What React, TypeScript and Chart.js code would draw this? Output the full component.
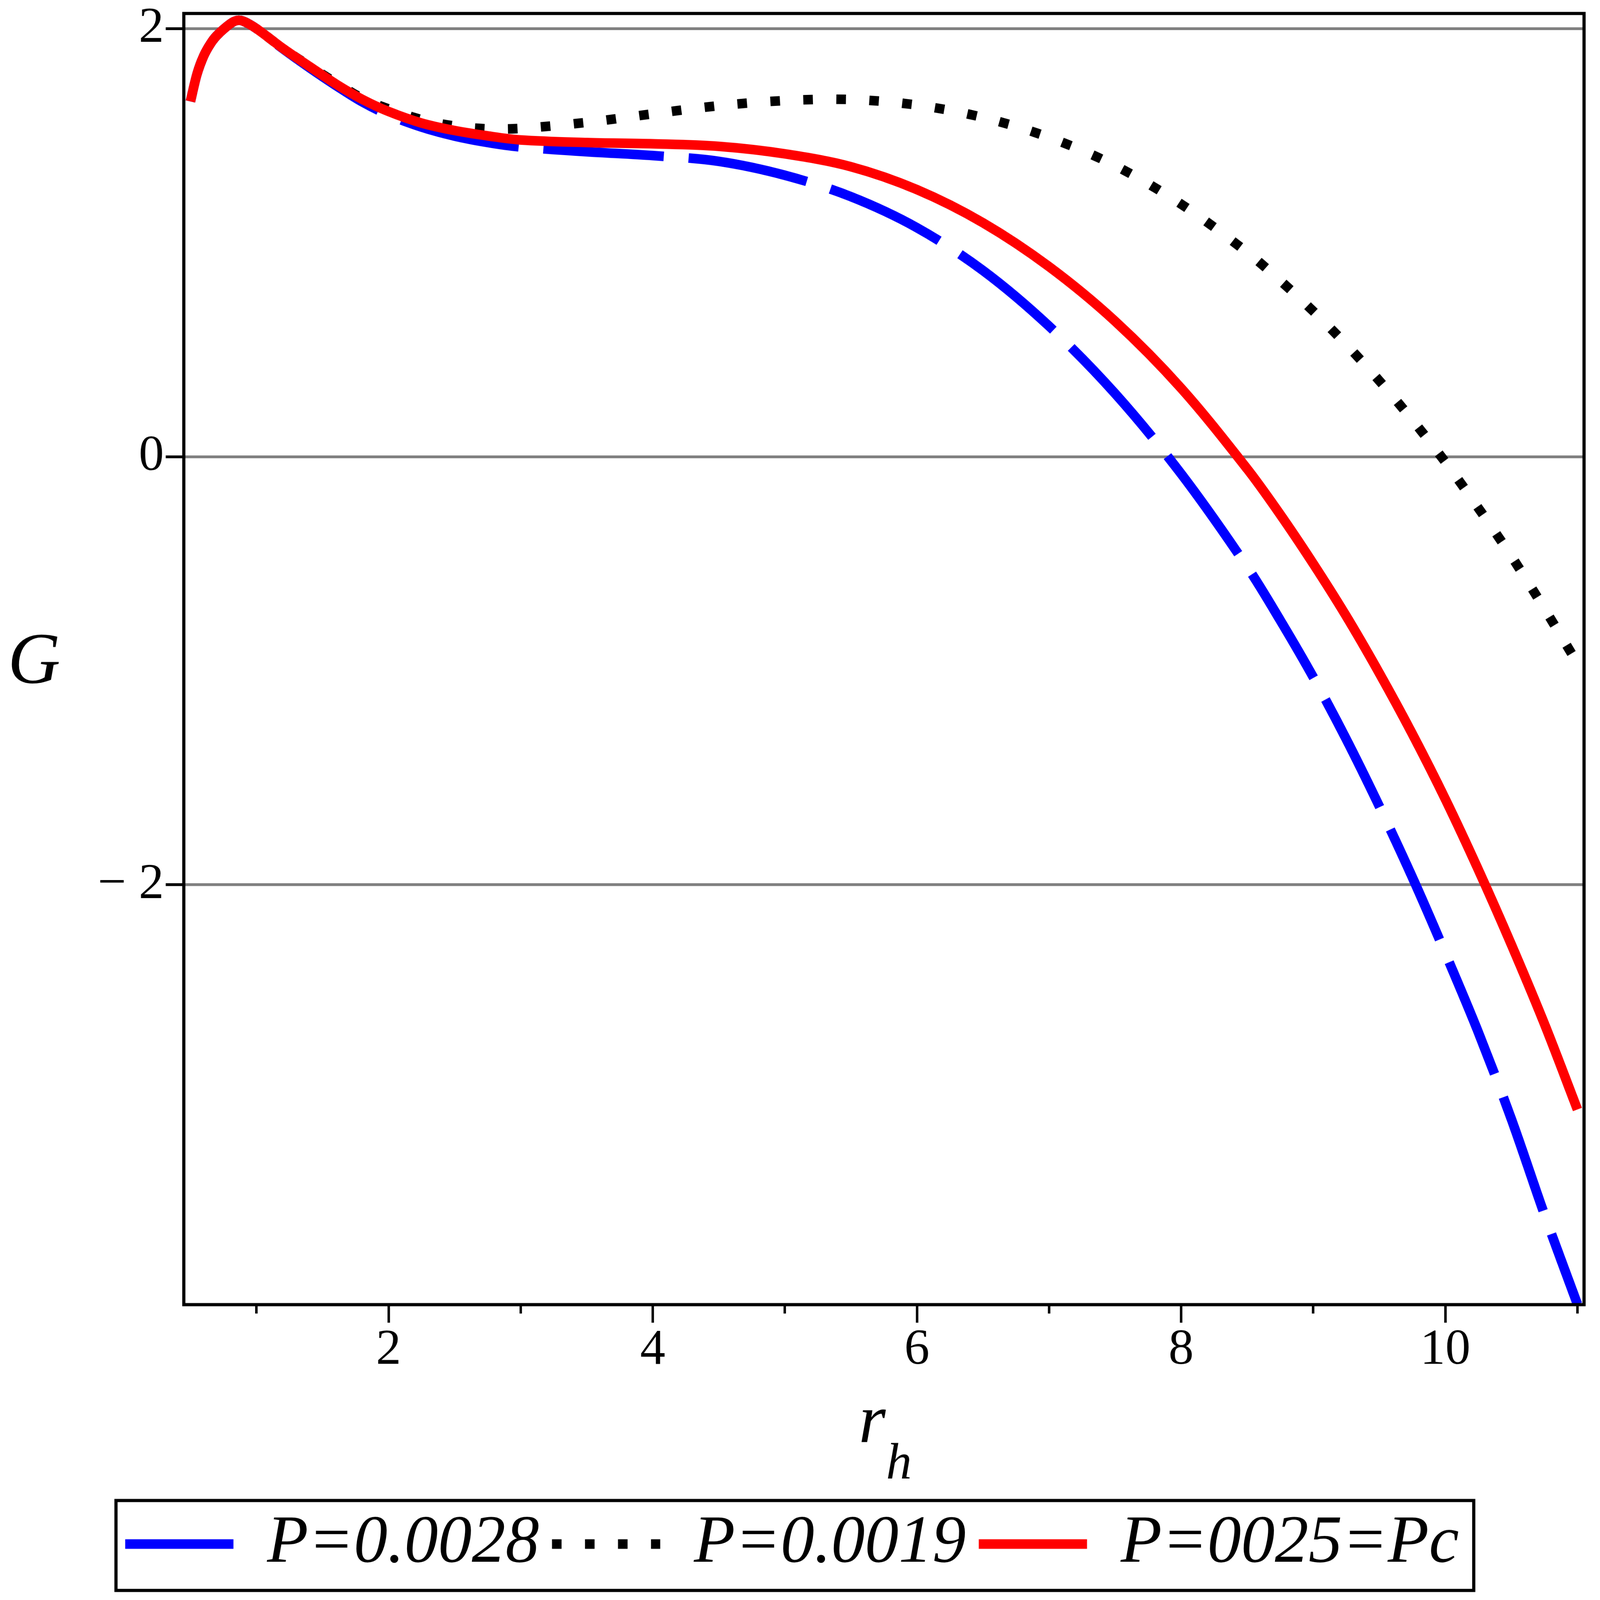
import { useEffect, useRef } from "react";
import { Chart, registerables } from "chart.js";

Chart.register(...registerables);

const W = 4509;
const H = 4518;

// r_h sample points (shared by the three curves)
const rh = [
  0.5, 0.55, 0.6, 0.65, 0.7, 0.8, 0.85, 0.9, 1.0, 1.2, 1.4, 1.6, 1.8, 2.0,
  2.25, 2.5, 2.75, 3.0, 3.5, 4.0, 4.5, 5.0, 5.5, 6.0, 6.5, 7.0, 7.5, 8.0, 8.5,
  8.75, 9.0, 9.25, 9.5, 9.75, 10.0, 10.25, 10.5, 10.75, 11.0,
];

// G for P = 0.0028 (blue, dashed)
const gHigh = [
  1.66, 1.788, 1.872, 1.928, 1.968, 2.022, 2.038, 2.035, 2.0, 1.906, 1.818,
  1.735, 1.658, 1.597, 1.54, 1.498, 1.468, 1.447, 1.425, 1.407, 1.38, 1.315,
  1.215, 1.07, 0.87, 0.61, 0.295, -0.08, -0.515, -0.764, -1.03, -1.32, -1.633,
  -1.965, -2.32, -2.69, -3.095, -3.54, -3.96,
];

// G for P = 0.0019 (black, dotted)
const gLow = [
  1.66, 1.788, 1.872, 1.928, 1.968, 2.022, 2.038, 2.035, 2.0, 1.908, 1.826,
  1.748, 1.675, 1.625, 1.575, 1.545, 1.532, 1.534, 1.562, 1.602, 1.64, 1.664,
  1.669, 1.643, 1.585, 1.492, 1.36, 1.18, 0.955, 0.823, 0.68, 0.524, 0.355,
  0.172, -0.025, -0.24, -0.465, -0.71, -0.965,
];

// G for P = Pc (red, solid)
const gCrit = [
  1.66, 1.788, 1.872, 1.928, 1.968, 2.022, 2.038, 2.035, 2.0, 1.908, 1.824,
  1.742, 1.67, 1.613, 1.559, 1.524, 1.499, 1.48, 1.468, 1.462, 1.45, 1.415,
  1.355, 1.248, 1.093, 0.888, 0.633, 0.32, -0.057, -0.27, -0.5, -0.745, -1.011,
  -1.295, -1.6, -1.93, -2.28, -2.65, -3.05,
];

const seriesLabels = ["P=0.0028", "P=0.0019", "P=0025=Pc"];
const xTicks = [1, 2, 3, 4, 5, 6, 7, 8, 9, 10, 11];
const yTicks = [-2, 0, 2];

const serif = "'Liberation Serif', 'Times New Roman', serif";

const toPoints = (ys: number[]) => rh.map((x, i) => ({ x, y: ys[i] }));

// frame around the plot, upright axis titles and the box round the legend
const framePlugin = {
  id: "frame",
  afterDraw(chart: any) {
    const { ctx, chartArea: a } = chart;
    const xs = chart.scales.x;
    ctx.save();
    ctx.strokeStyle = "#000";
    ctx.lineWidth = 9;
    ctx.strokeRect(a.left, a.top, a.right - a.left, a.bottom - a.top);

    ctx.fillStyle = "#000";
    ctx.textAlign = "left";
    ctx.textBaseline = "alphabetic";
    ctx.font = `italic 205px ${serif}`;
    ctx.fillText("G", 22, (a.top + a.bottom) / 2 + 67);

    const cx = (a.left + a.right) / 2;
    ctx.font = `italic 195px ${serif}`;
    ctx.fillText("r", cx - 71, xs.top + 388);
    ctx.font = `italic 145px ${serif}`;
    ctx.fillText("h", cx + 6, xs.top + 491);

    const boxes = chart.legend && chart.legend.legendHitBoxes;
    if (boxes && boxes.length) {
      const first = boxes[0];
      const last = boxes[boxes.length - 1];
      const mid = first.top + first.height / 2;
      const left = first.left - 26;
      const right = last.left + last.width + 42;
      ctx.lineWidth = 9;
      ctx.strokeRect(left, mid - 123, right - left, 254);
    }
    ctx.restore();
  },
};

export default function App() {
  const chartRef = useRef<HTMLCanvasElement | null>(null);

  useEffect(() => {
    if (!chartRef.current) return;

    const common = {
      borderWidth: 27,
      pointRadius: 0,
      tension: 0.33,
      fill: false,
    };

    const chart = new Chart(chartRef.current, {
      type: "line",
      data: {
        datasets: [
          {
            ...common,
            label: seriesLabels[0],
            data: toPoints(gHigh),
            borderColor: "#0000ff",
            borderDash: [340, 70],
            order: 1,
          },
          {
            ...common,
            label: seriesLabels[1],
            data: toPoints(gLow),
            borderColor: "#000000",
            borderDash: [27, 66],
            order: 2,
          },
          {
            ...common,
            label: seriesLabels[2],
            data: toPoints(gCrit),
            borderColor: "#ff0000",
            order: 0,
          },
        ],
      },
      options: {
        animation: false,
        responsive: false,
        devicePixelRatio: 1,
        layout: { padding: { top: 38, right: 45, bottom: 53, left: 0 } },
        plugins: {
          legend: {
            position: "bottom",
            labels: {
              usePointStyle: true,
              pointStyle: "line",
              pointStyleWidth: 305,
              padding: 36,
              color: "#000",
              font: { family: serif, size: 190, style: "italic" },
              sort: (a: any, b: any) => a.datasetIndex - b.datasetIndex,
              // keep the dash pattern of each line in its legend sample
              generateLabels: (c: any) => {
                const items =
                  Chart.defaults.plugins.legend.labels.generateLabels(c);
                items.forEach((item: any) => {
                  const ds: any = c.data.datasets[item.datasetIndex];
                  item.lineDash = ds.borderDash || [];
                  item.lineWidth = ds.borderWidth;
                });
                return items;
              },
            },
          },
          tooltip: { enabled: false },
        },
        scales: {
          x: {
            type: "linear",
            min: 0.45,
            max: 11.05,
            border: { display: false },
            grid: {
              drawOnChartArea: false,
              drawTicks: true,
              tickLength: 51,
              tickWidth: 7,
              tickColor: "#000",
              tickBorderDash: (c: any) =>
                c.tick && c.tick.value % 2 !== 0 ? [25, 400] : [],
            },
            ticks: {
              autoSkip: false,
              maxRotation: 0,
              padding: 8,
              color: "#000",
              font: { family: serif, size: 142, lineHeight: 1 },
              callback: (v: any) => (Number(v) % 2 === 0 ? String(v) : ""),
            },
            afterBuildTicks: (s: any) => {
              s.ticks = xTicks.map((value) => ({ value }));
            },
            afterFit: (s: any) => {
              s.height = 545;
              s.paddingLeft = 0;
              s.paddingRight = 0;
            },
          },
          y: {
            type: "linear",
            min: -3.962,
            max: 2.071,
            border: { display: false },
            grid: {
              color: "#808080",
              lineWidth: 8,
              tickLength: 51,
              tickWidth: 8,
              tickColor: "#000",
            },
            ticks: {
              padding: 5,
              color: "#000",
              font: { family: serif, size: 142 },
              callback: (v: any) =>
                Number(v) < 0 ? `\u2212 ${Math.abs(Number(v))}` : String(v),
            },
            afterBuildTicks: (s: any) => {
              s.ticks = yTicks.map((value) => ({ value }));
            },
            afterFit: (s: any) => {
              s.width = 518;
              s.paddingTop = 0;
              s.paddingBottom = 0;
            },
          },
        },
      },
      plugins: [framePlugin],
    });

    return () => {
      chart.destroy();
    };
  }, []);

  return (
    <div
      style={{
        position: "fixed",
        left: 0,
        top: 0,
        width: "100vw",
        height: "100vh",
        background: "#fff",
      }}
    >
      <canvas
        ref={chartRef}
        width={W}
        height={H}
        style={{ width: "100vw", height: "100vh", display: "block" }}
      ></canvas>
    </div>
  );
}
